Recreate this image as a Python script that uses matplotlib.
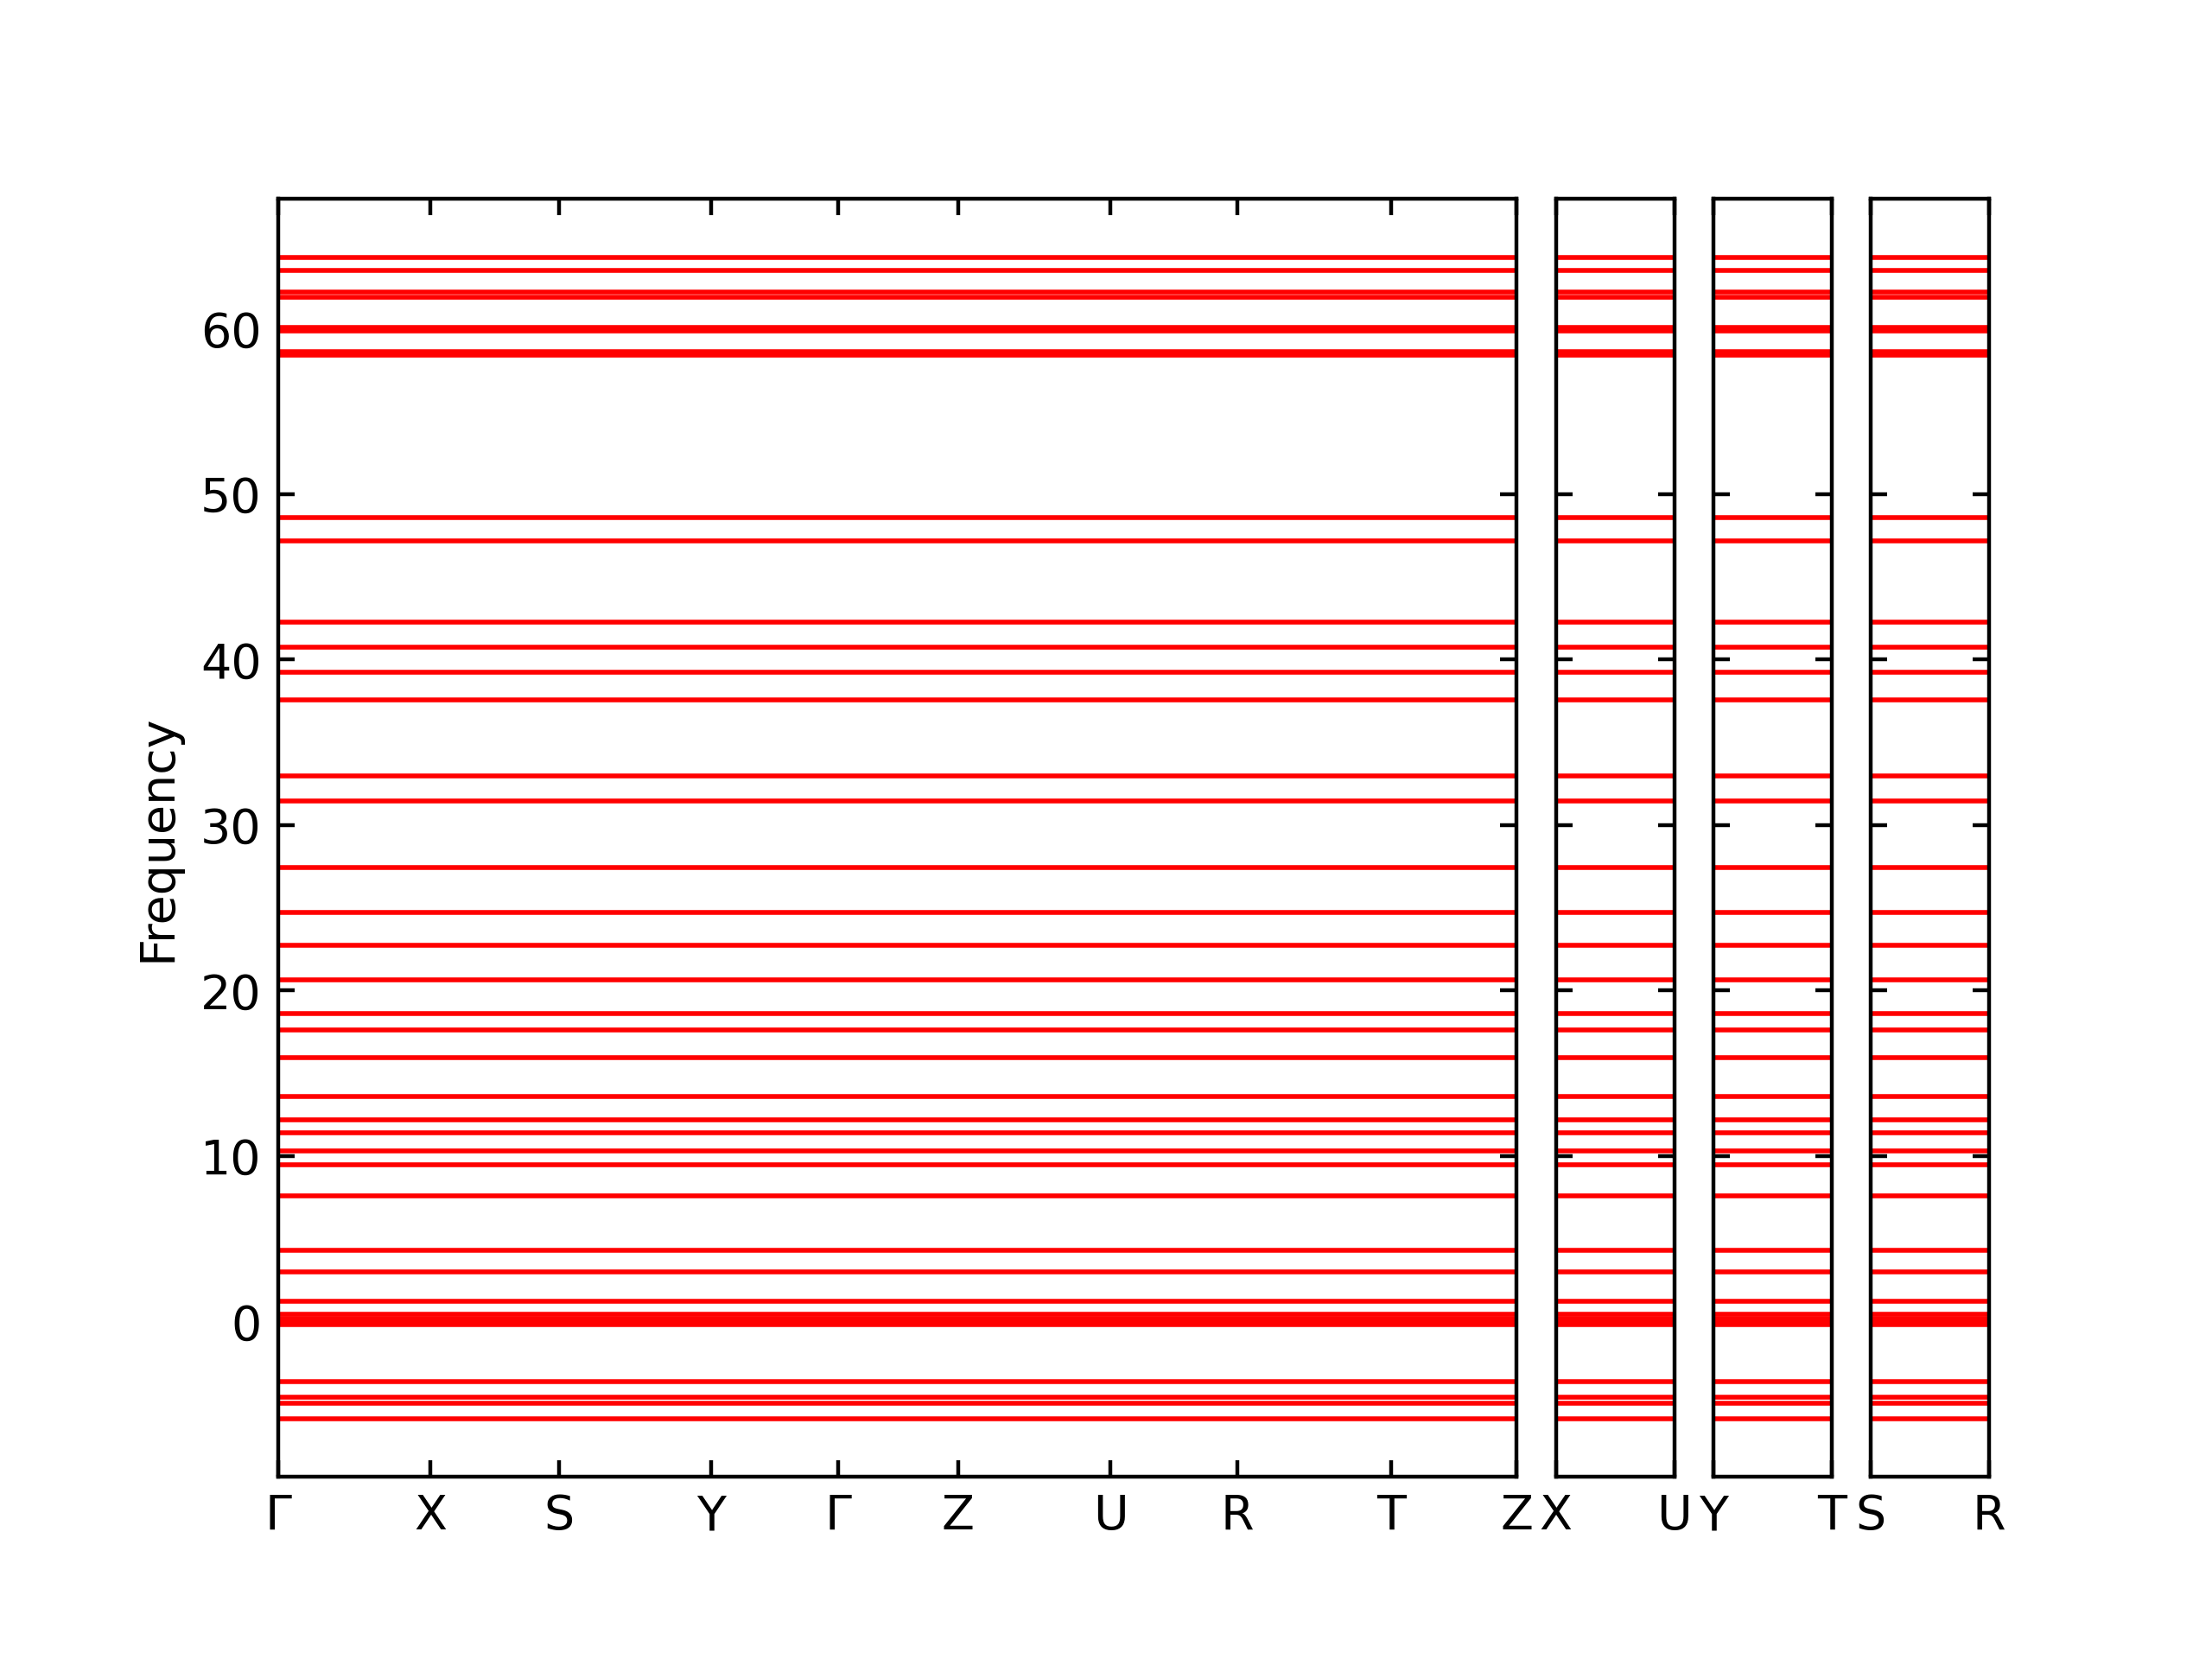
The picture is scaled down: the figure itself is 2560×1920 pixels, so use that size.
import numpy as np
import matplotlib
matplotlib.use("Agg")
import matplotlib.pyplot as plt

# flat phonon branches (same value along every path)
bands = [-5.86, -4.92, -4.56, -3.62,
         -0.17, 0.0, 0.2, 0.45, 1.23, 3.00, 4.31, 7.60,
         9.48, 10.31, 11.41, 12.19, 13.62, 15.95, 17.62, 18.63,
         20.65, 22.74, 24.73, 27.44, 31.48, 32.99, 37.54, 39.26,
         40.77, 42.24, 47.18, 48.60, 58.38, 58.61, 59.86, 60.05,
         61.88, 62.23, 63.53, 64.32]

# k-path segments: labels and cumulative distances
main_labels = ["Γ", "X", "S", "Y", "Γ", "Z", "U", "R", "T", "Z"]
main_k = [0.0, 0.176, 0.3245, 0.501, 0.648, 0.7865, 0.963, 1.110, 1.288, 1.433]
side_labels = [["X", "U"], ["Y", "T"], ["S", "R"]]
side_k = [[0.0, 0.137], [0.0, 0.137], [0.0, 0.137]]

paths = [(main_labels, main_k)] + list(zip(side_labels, side_k))
widths = [k[-1] - k[0] for _, k in paths]

fig, axes = plt.subplots(1, 4, figsize=(6.4, 4.8), dpi=400, sharey=True,
                         gridspec_kw={"width_ratios": widths, "wspace": 0.098})
fig.subplots_adjust(left=0.1258, right=0.8992)

for ax, (labels, k) in zip(axes, paths):
    k = np.array(k)
    for f in bands:
        ax.plot(k, np.full_like(k, f), color="red", lw=1)
    ax.set_xlim(k[0], k[-1])
    ax.set_xticks(k)
    ax.set_xticklabels(labels)
    ax.tick_params(direction="in", top=True, right=True, labelsize=10)

axes[0].set_yticks([0, 10, 20, 30, 40, 50, 60])
axes[0].set_ylabel("Frequency")

plt.savefig("out.png", dpi=400)
